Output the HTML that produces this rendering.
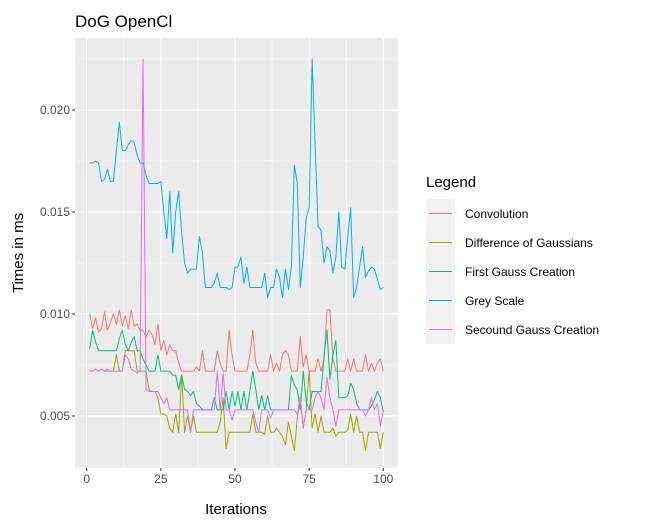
<!DOCTYPE html>
<html><head><meta charset="utf-8"><style>
body{margin:0;background:#fff;font-family:"Liberation Sans",Arial,sans-serif}
svg text{font-family:"Liberation Sans",Arial,sans-serif}
</style></head><body>
<svg id="chart" width="647" height="527" xmlns="http://www.w3.org/2000/svg">
<rect width="647" height="527" fill="#fff"/>
<text x="75" y="27" font-size="17" fill="#000">DoG OpenCl</text>
<rect x="75" y="38" width="323" height="430" fill="#EBEBEB"/>
<g id="grid"></g>
<g id="series"></g>
<g id="axes"></g>
<text x="236" y="514" font-size="15" text-anchor="middle" fill="#000">Iterations</text>
<text transform="translate(23,253) rotate(-90)" font-size="15" text-anchor="middle" fill="#000">Times in ms</text>
<g id="legend"></g>
</svg>
<script>
const seriesNames=["Convolution","Difference of Gaussians","First Gauss Creation","Grey Scale","Secound Gauss Creation"];
const seriesColors=["#F8766D","#A3A500","#00BF7D","#00B0F6","#E76BF3"];
const xTicks=[0,25,50,75,100];
const yTicks=[0.005,0.010,0.015,0.020];
const yTickLabels=["0.005","0.010","0.015","0.020"];
const convolution=[.0100,.0093,.0098,.0091,.0093,.0101,.0092,.0096,.0100,.0095,
.0102,.0094,.0099,.0093,.0102,.0094,.0095,.0092,.0092,.0089,
.0092,.0090,.0085,.0095,.0082,.0087,.0080,.0085,.0082,.0082,
.0076,.0072,.0072,.0072,.0072,.0072,.0074,.0072,.0082,.0072,
.0072,.0072,.0072,.0082,.0076,.0072,.0072,.0092,.0080,.0072,
.0072,.0072,.0072,.0072,.0080,.0092,.0076,.0072,.0072,.0072,
.0072,.0080,.0072,.0076,.0072,.0080,.0082,.0080,.0072,.0072,
.0072,.0089,.0074,.0080,.0072,.0072,.0072,.0078,.0072,.0078,
.0102,.0102,.0078,.0072,.0072,.0072,.0072,.0078,.0072,.0078,
.0072,.0072,.0072,.0080,.0072,.0076,.0072,.0076,.0078,.0072];
const differenceOfGaussians=[.0072,.0072,.0073,.0072,.0073,.0072,.0072,.0072,.0072,.0080,
.0072,.0072,.0082,.0082,.0082,.0082,.0072,.0072,.0072,.0072,
.0063,.0062,.0062,.0059,.0051,.0051,.0050,.0044,.0042,.0051,
.0042,.0070,.0042,.0050,.0042,.0050,.0042,.0042,.0042,.0042,
.0042,.0042,.0042,.0042,.0047,.0059,.0034,.0042,.0042,.0042,
.0042,.0042,.0042,.0042,.0042,.0051,.0042,.0042,.0042,.0041,
.0050,.0042,.0042,.0044,.0042,.0040,.0036,.0047,.0040,.0033,
.0049,.0059,.0044,.0053,.0072,.0044,.0051,.0042,.0050,.0042,
.0042,.0042,.0044,.0040,.0042,.0042,.0042,.0043,.0051,.0042,
.0050,.0042,.0042,.0033,.0042,.0042,.0042,.0042,.0034,.0042];
const firstGauss=[.0083,.0092,.0086,.0082,.0082,.0082,.0082,.0082,.0082,.0082,
.0088,.0092,.0085,.0082,.0086,.0089,.0082,.0082,.0078,.0075,
.0072,.0072,.0072,.0080,.0072,.0072,.0072,.0072,.0070,.0070,
.0063,.0070,.0063,.0062,.0060,.0062,.0056,.0055,.0053,.0053,
.0053,.0053,.0059,.0053,.0053,.0053,.0062,.0053,.0062,.0055,
.0062,.0053,.0062,.0053,.0062,.0072,.0063,.0053,.0060,.0053,
.0060,.0053,.0053,.0053,.0053,.0053,.0053,.0053,.0070,.0065,
.0063,.0053,.0072,.0057,.0053,.0062,.0062,.0062,.0062,.0079,
.0092,.0068,.0080,.0087,.0059,.0059,.0059,.0060,.0066,.0063,
.0056,.0053,.0053,.0053,.0053,.0055,.0058,.0062,.0059,.0052];
const greyScale=[.0174,.0174,.0175,.0174,.0165,.0166,.0171,.0165,.0165,.0180,
.0194,.0180,.0180,.0183,.0185,.0184,.0178,.0174,.0174,.0168,
.0164,.0164,.0164,.0164,.0165,.0150,.0137,.0160,.0130,.0150,
.0160,.0140,.0125,.0120,.0122,.0122,.0122,.0138,.0130,.0113,
.0113,.0113,.0115,.0120,.0113,.0113,.0113,.0112,.0113,.0123,
.0123,.0128,.0115,.0123,.0113,.0113,.0113,.0113,.0113,.0120,
.0108,.0113,.0113,.0122,.0118,.0108,.0122,.0112,.0123,.0173,
.0164,.0113,.0128,.0147,.0152,.0225,.0183,.0143,.0141,.0125,
.0133,.0131,.0120,.0128,.0150,.0123,.0122,.0138,.0152,.0108,
.0113,.0123,.0133,.0118,.0121,.0123,.0122,.0117,.0112,.0113];
const secondGauss=[.0072,.0072,.0073,.0072,.0073,.0072,.0073,.0072,.0072,.0072,
.0072,.0072,.0080,.0078,.0073,.0072,.0071,.0072,.0225,.0063,
.0062,.0062,.0062,.0062,.0059,.0056,.0059,.0053,.0053,.0053,
.0053,.0053,.0053,.0053,.0042,.0053,.0053,.0053,.0053,.0053,
.0053,.0053,.0053,.0072,.0053,.0071,.0053,.0053,.0048,.0053,
.0053,.0053,.0053,.0053,.0053,.0053,.0047,.0042,.0053,.0053,
.0053,.0049,.0053,.0053,.0053,.0053,.0053,.0053,.0053,.0053,
.0051,.0059,.0045,.0053,.0053,.0053,.0059,.0062,.0059,.0053,
.0069,.0059,.0053,.0045,.0053,.0053,.0053,.0053,.0053,.0053,
.0053,.0053,.0053,.0050,.0053,.0059,.0053,.0056,.0045,.0053];
const allSeries=[convolution,differenceOfGaussians,firstGauss,greyScale,secondGauss];
const slugs=["convolution","difference-of-gaussians","first-gauss-creation","grey-scale","secound-gauss-creation"];

const NS="http://www.w3.org/2000/svg";
const X0=75,X1=398,Y0=468,Y1=38;
const xMin=-3.95,xMax=104.95,yMin=0.00245,yMax=0.02353;
function xs(v){return X0+(v-xMin)/(xMax-xMin)*(X1-X0);}
function ys(v){return Y0-(v-yMin)/(yMax-yMin)*(Y0-Y1);}
function mk(tag,attrs,parent){const e=document.createElementNS(NS,tag);for(const k in attrs)e.setAttribute(k,attrs[k]);parent.appendChild(e);return e;}

const grid=document.getElementById('grid');
// minor grid
for(let i=0;i<xTicks.length-1;i++){const m=(xTicks[i]+xTicks[i+1])/2;
 const l=mk('line',{x1:xs(m),x2:xs(m),y1:Y1,y2:Y0,stroke:'#fff','stroke-width':0.55},grid);
 
 }
for(let i=0;i<=yTicks.length;i++){const a=i===0?yTicks[0]-0.005:yTicks[i-1];const m=a+0.0025;
 if(m<yMin||m>yMax)continue;
 const l=mk('line',{x1:X0,x2:X1,y1:ys(m),y2:ys(m),stroke:'#fff','stroke-width':0.55},grid);
 
 }
const axes=document.getElementById('axes');
xTicks.forEach(t=>{
 const l=mk('line',{x1:xs(t),x2:xs(t),y1:Y1,y2:Y0,stroke:'#fff','stroke-width':1.1},grid);
 
 
 const tk=mk('line',{x1:xs(t),x2:xs(t),y1:Y0,y2:Y0+3,stroke:'#333','stroke-width':1},axes);
 
 
 const tx=mk('text',{x:xs(t),y:Y0+15,'font-size':12,'text-anchor':'middle',fill:'#4d4d4d'},axes);
 tx.textContent=t;
 
 
});
yTicks.forEach((t,i)=>{
 const l=mk('line',{x1:X0,x2:X1,y1:ys(t),y2:ys(t),stroke:'#fff','stroke-width':1.1},grid);
 
 
 const tk=mk('line',{x1:X0-3,x2:X0,y1:ys(t),y2:ys(t),stroke:'#333','stroke-width':1},axes);
 
 
 const tx=mk('text',{x:X0-5,y:ys(t)+4,'font-size':12,'text-anchor':'end',fill:'#4d4d4d'},axes);
 tx.textContent=yTickLabels[i];
 
 
});
const sg=document.getElementById('series');
allSeries.forEach((arr,s)=>{
 const pts=arr.map((v,i)=>xs(i+1).toFixed(2)+','+ys(v).toFixed(2)).join(' ');
 const p=mk('polyline',{points:pts,fill:'none',stroke:seriesColors[s],'stroke-width':1,'stroke-linejoin':'round'},sg);
 
 
});
const lg=document.getElementById('legend');
const lt=mk('text',{x:426,y:187,'font-size':15,fill:'#000'},lg);
lt.textContent='Legend';


seriesNames.forEach((n,i)=>{
 const y=199+i*29;
 const g=mk('g',{},lg);
 
 
 mk('rect',{x:426,y:y,width:29,height:29,fill:'#F2F2F2'},g);
 mk('line',{x1:429,x2:452,y1:y+14.5,y2:y+14.5,stroke:seriesColors[i],'stroke-width':1},g);
 const t=mk('text',{x:465,y:y+19,'font-size':12,fill:'#000'},g);
 t.textContent=n;
});
</script>
</body></html>
